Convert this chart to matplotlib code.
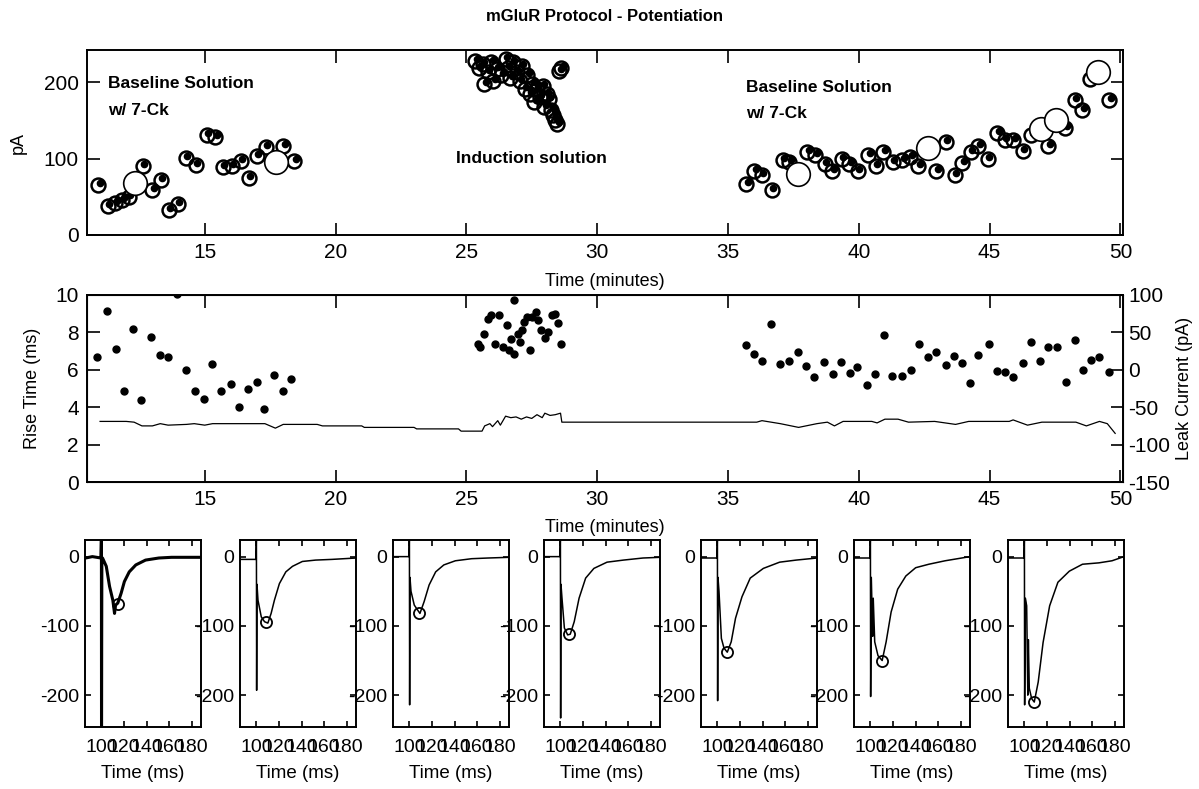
import matplotlib
matplotlib.use("Agg")
import matplotlib.pyplot as plt
import matplotlib.transforms as mtransforms

plt.rcParams['font.family'] = ['Liberation Sans', 'DejaVu Sans']
plt.rcParams['axes.unicode_minus'] = False
TICK_FONT = ['Liberation Sans Narrow', 'Liberation Sans', 'DejaVu Sans']

# --- top panel: EPSC amplitude (pA) vs time (min) ---
base1_t = [10.93, 11.3, 11.58, 11.85, 12.1, 12.63, 12.99, 13.32, 13.63, 13.97, 14.27,
           14.66, 15.07, 15.4, 15.68, 16.03, 16.37, 16.68, 16.99, 17.33, 18.01, 18.42]
base1_a = [66, 38, 42, 46, 50, 90, 59, 72, 33, 40, 101,
           92, 131, 128, 89, 90, 97, 74, 103, 115, 116, 97]

induct_t = [25.34, 25.48, 25.62, 25.68, 25.82, 25.96, 26.03, 26.16, 26.33, 26.51, 26.58,
            26.68, 26.78, 26.92, 27.05, 27.12, 27.23, 27.33, 27.42, 27.51, 27.6, 27.7,
            27.81, 27.92, 27.97, 28.08, 28.15, 28.25, 28.33, 28.38, 28.47, 28.56, 28.63]
induct_a = [228, 219, 224, 198, 213, 226, 202, 217, 209, 230, 219,
            206, 226, 213, 202, 221, 191, 209, 185, 198, 174, 191,
            180, 195, 168, 185, 178, 163, 157, 150, 145, 215, 219]

base2_t = [35.7, 36.0, 36.3, 36.67, 37.1, 37.35, 38.04, 38.33, 38.7, 38.99, 39.35, 39.64,
           39.96, 40.36, 40.65, 40.94, 41.3, 41.67, 41.96, 42.28, 42.97, 43.33, 43.67,
           43.96, 44.28, 44.57, 44.93, 45.29, 45.58, 45.91, 46.26, 46.59, 47.25, 47.9,
           48.26, 48.55, 48.84, 49.57]
base2_a = [67, 84, 78, 59, 98, 96, 108, 104, 93, 84, 100, 93,
           84, 104, 90, 109, 96, 98, 102, 90, 84, 122, 78,
           94, 109, 116, 100, 133, 124, 124, 110, 131, 116, 140,
           177, 164, 204, 176]

avg_t = [12.33, 17.71, 37.68, 42.65, 46.96, 47.54, 49.13]
avg_a = [68, 95, 80, 114, 139, 151, 213]

# --- middle panel: rise time (ms) and leak current (pA) ---
rise_t = [10.88, 11.28, 11.6, 11.91, 12.25, 12.57, 12.96, 13.28, 13.6, 13.93, 14.28, 14.63,
          14.97, 15.29, 15.62, 16.0, 16.32, 16.65, 16.99, 17.28, 17.66, 17.99, 18.31,
          25.44, 25.51, 25.66, 25.81, 25.96, 26.1, 26.25, 26.4, 26.54, 26.62, 26.69, 26.81,
          26.84, 26.96, 27.06, 27.13, 27.21, 27.31, 27.43, 27.5, 27.65, 27.72, 27.87, 28.01,
          28.13, 28.28, 28.38, 28.49, 28.6,
          35.68, 35.99, 36.31, 36.64, 36.99, 37.33, 37.66, 37.98, 38.3, 38.66, 39.0, 39.32,
          39.65, 39.94, 40.33, 40.62, 40.96, 41.28, 41.66, 41.98, 42.3, 42.63, 42.95, 43.33,
          43.65, 43.94, 44.26, 44.56, 44.96, 45.28, 45.58, 45.9, 46.26, 46.6, 46.92, 47.24,
          47.57, 47.91, 48.26, 48.57, 48.88, 49.2, 49.57]
rise_ms = [6.68, 9.14, 7.13, 4.84, 8.17, 4.39, 7.76, 6.77, 6.68, 10.04, 5.97, 4.89,
           4.44, 6.33, 4.89, 5.25, 4.0, 4.98, 5.34, 3.91, 5.7, 4.89, 5.52,
           7.4, 7.2, 7.94, 8.69, 8.92, 7.4, 8.92, 7.2, 8.39, 7.04, 7.67, 9.73,
           6.86, 7.94, 7.49, 8.12, 8.57, 8.83, 7.04, 8.83, 9.1, 8.66, 8.12, 7.72,
           8.03, 8.92, 9.01, 8.48, 7.4,
           7.3, 6.85, 6.49, 8.47, 6.31, 6.49, 6.94, 6.22, 5.64, 6.4, 5.77, 6.4,
           5.82, 6.13, 5.19, 5.77, 7.84, 5.68, 5.68, 6.0, 7.39, 6.67, 6.94, 6.25,
           6.72, 6.36, 5.28, 6.81, 7.39, 5.95, 5.86, 5.64, 6.34, 7.48, 6.45, 7.21,
           7.21, 5.35, 7.57, 6.0, 6.52, 6.67, 5.86]

leak_t = [11.0, 12.0, 12.3, 12.6, 13.0, 13.3, 13.6, 14.3, 14.6, 15.0, 15.3, 17.3, 17.7,
          18.0, 19.3, 19.5, 21.0, 21.1, 23.0, 23.1, 24.7, 24.8, 25.6, 25.7, 25.9, 26.0,
          26.2, 26.3, 26.5, 26.7, 26.9, 27.1, 27.3, 27.5, 27.7, 27.9, 28.0, 28.2, 28.4,
          28.6, 28.65, 36.1, 36.3, 37.0, 37.7, 38.4, 38.8, 39.07, 39.4, 40.5, 40.7, 41.0,
          41.5, 41.9, 42.9, 43.7, 44.2, 45.75, 45.9, 46.45, 47.0, 48.3, 48.7, 49.2, 49.5,
          49.8]
leak_pa = [-69, -69, -70, -75, -75, -72, -74, -73, -72, -74, -72, -72, -78,
           -73, -73, -75, -75, -77, -77, -79, -79, -82, -82, -75, -72, -76,
           -68, -74, -62, -64, -63, -66, -63, -65, -60, -64, -58, -61, -60,
           -58, -70, -70, -68, -72, -77, -72, -70, -75, -69, -69, -71, -66,
           -66, -70, -69, -73, -69, -69, -67, -74, -70, -70, -75, -69, -72,
           -85]

# --- bottom row: example EPSC traces (pA vs ms) ---
trace_t = [
    [86, 92, 99.6, 100, 100.1, 100.4, 101, 104.3, 107.2, 110.1, 111.6, 112.5, 114.5,
     117.4, 120.3, 124.6, 130.4, 139, 150.7, 162, 175, 188],
    [86, 99.6, 100, 100.2, 100.5, 101.4, 104.3, 107.2, 110.1, 113, 115.9, 120.3, 126,
     131.9, 140.6, 152.3, 166.7, 188],
    [86, 99.6, 100, 100.2, 100.5, 101.4, 104.3, 107.2, 109.3, 113, 117.4, 123.2, 130.4,
     140.6, 155, 169.6, 188],
    [86, 99.6, 100, 100.2, 100.5, 101.4, 103.5, 106.4, 108.7, 112.2, 116.5, 122.3, 129.6,
     141.2, 155.7, 173, 188],
    [86, 99.6, 100, 100.2, 100.5, 101.4, 103.5, 105.8, 108.7, 112.2, 116, 121.7, 129,
     140.6, 155, 169.6, 188],
    [86, 99.6, 100, 100.2, 100.8, 102, 102.5, 103.8, 106.7, 110.4, 113.9, 118.3, 124.1,
     131.3, 140, 151.6, 166, 188],
    [86, 99.6, 100, 100.2, 100.8, 102, 103, 103.5, 104.3, 106.4, 108.7, 112.2, 116.5,
     122.3, 129.6, 139.7, 151.3, 165.8, 177.4, 188],
]
trace_v = [
    [-2, 0, -2, 30, -250, -3, -2, -14, -43, -63, -82, -70, -67,
     -53, -36, -22, -12, -5, -2, -1, -1, -1],
    [-4, -4, 30, -193, -40, -63, -87, -94, -96, -82, -63, -39, -22,
     -14, -7, -5, -4, -2],
    [0, 0, 30, -214, -30, -50, -70, -77, -82, -65, -41, -22, -12,
     -6, -3, -2, -1],
    [0, 0, 30, -233, -40, -60, -103, -113, -112, -94, -60, -31, -17,
     -8, -5, -2, -1],
    [-2, -2, 30, -208, -30, -50, -118, -132, -138, -123, -89, -58, -31,
     -17, -8, -5, -2],
    [-2, -2, 30, -202, -30, -115, -60, -123, -143, -150, -123, -80, -47,
     -28, -16, -11, -6, 0],
    [-2, -2, 30, -214, -60, -71, -200, -120, -190, -205, -210, -181, -124,
     -71, -37, -21, -11, -9, -6, 0],
]
peak_t = [114.5, 108.7, 108.7, 107.8, 108.7, 110.4, 108.7]
peak_a = [-68, -95, -81, -112, -138, -150, -210]
panel_x = [85, 240, 393, 544, 701, 854, 1008]

W, H = 1199, 789
fig = plt.figure(figsize=(W / 100, H / 100), dpi=100, facecolor='white')


def px_axes(x0, x1, y0, y1):
    ax = fig.add_axes([x0 / W, 1 - y1 / H, (x1 - x0) / W, (y1 - y0) / H])
    ax.patch.set_alpha(0)
    return ax


def style(ax, length=9, size=15):
    ax.tick_params(direction='in', length=length, width=1.2, top=True, right=True,
                   labelsize=size, labelfontfamily=TICK_FONT, pad=6)
    for s in ax.spines.values():
        s.set_linewidth(1.4)


# top panel
ax1 = px_axes(87, 1123, 50, 235)
style(ax1)
dot_tr = mtransforms.offset_copy(ax1.transData, fig=fig, x=1.5, y=2, units='dots')
for tt, aa in [(base1_t, base1_a), (induct_t, induct_a), (base2_t, base2_a)]:
    ax1.plot(tt, aa, 'o', ms=10, mfc='none', mec='black', mew=1.8)
    ax1.plot(tt, aa, 'o', ms=4.5, color='black', transform=dot_tr)
ax1.plot(avg_t, avg_a, 'o', ms=17, mfc='white', mec='black', mew=1.2)
ax1.set_xlim(10.5, 50.1)
ax1.set_ylim(0, 242)
ax1.set_xticks([15, 20, 25, 30, 35, 40, 45, 50])
ax1.set_yticks([0, 100, 200])
ax1.set_ylabel('pA', fontsize=13, labelpad=12)
ax1.set_xlabel('Time (minutes)', fontsize=13, labelpad=8)
ax1.set_title('mGluR Protocol - Potentiation', fontsize=12, fontweight='bold', pad=21)
for x, y, s in [(11.3, 198, 'Baseline Solution'), (11.3, 163, 'w/ 7-Ck'),
                (35.7, 193, 'Baseline Solution'), (35.7, 159, 'w/ 7-Ck')]:
    ax1.text(x, y, s, fontsize=12.5, fontweight='bold', va='center', ha='left')
ax1.text(27.5, 100, 'Induction solution', fontsize=12.5, fontweight='bold',
         va='center', ha='center')

# middle panel
ax2 = px_axes(87, 1123, 295, 482)
style(ax2)
ax2.tick_params(right=False)
ax2.plot(rise_t, rise_ms, 'o', ms=5, color='black')
ax2.set_xlim(10.5, 50.1)
ax2.set_ylim(0, 10)
ax2.set_xticks([15, 20, 25, 30, 35, 40, 45, 50])
ax2.set_yticks([0, 2, 4, 6, 8, 10])
ax2.set_ylabel('Rise Time (ms)', fontsize=13, labelpad=10)
ax2.set_xlabel('Time (minutes)', fontsize=13, labelpad=7)
ax2r = ax2.twinx()
ax2r.plot(leak_t, leak_pa, color='black', lw=0.9)
ax2r.set_ylim(-150, 100)
ax2r.set_yticks([-150, -100, -50, 0, 50, 100])
ax2r.tick_params(direction='in', length=9, width=1.2, labelsize=15,
                 labelfontfamily=TICK_FONT, pad=4)
ax2r.set_ylabel('Leak Current (pA)', fontsize=13, labelpad=4)

# bottom row of traces
for i in range(7):
    x0 = panel_x[i]
    ax = px_axes(x0, x0 + 116, 540, 727)
    style(ax, length=4, size=14)
    ax.plot(trace_t[i], trace_v[i], color='black', lw=2.2 if i == 0 else 1.1)
    ax.plot(peak_t[i], peak_a[i], 'o', ms=8, mfc='none', mec='black', mew=1.3)
    ax.set_xlim(85.5, 188)
    ax.set_ylim(-246, 24)
    ax.set_xticks([100, 120, 140, 160, 180])
    ax.set_yticks([-200, -100, 0])
    ax.tick_params(axis='x', pad=9)
    ax.tick_params(axis='y', pad=4)
    ax.set_xlabel('Time (ms)', fontsize=13.5, labelpad=6)

fig.savefig('out.png', dpi=100, facecolor='white')
